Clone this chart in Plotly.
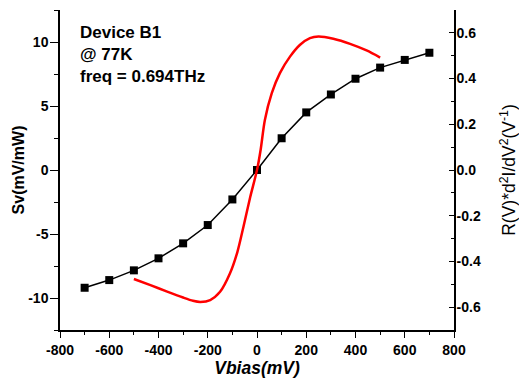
import plotly.graph_objects as go

vbias = [-700, -600, -500, -400, -300, -200, -100, 0, 100, 200, 300, 400, 500, 600, 700]
sv = [-9.2, -8.6, -7.84, -6.9, -5.73, -4.3, -2.3, 0.0, 2.48, 4.5, 5.9, 7.13, 8.0, 8.6, 9.16]

v_curve = [-500, -430, -370, -300, -260, -230, -190, -150, -110, -80, -55, -28, 0, 15, 32,
           60, 93, 134, 175, 215, 250, 310, 378, 445, 500]
r_curve = [-0.477, -0.505, -0.530, -0.558, -0.572, -0.577, -0.569, -0.533, -0.453, -0.36,
           -0.248, -0.12, 0.0, 0.09, 0.219, 0.336, 0.424, 0.496, 0.548, 0.577, 0.584,
           0.574, 0.552, 0.523, 0.492]

x_ticks = [-800, -600, -400, -200, 0, 200, 400, 600, 800]
x_labels = ["-800", "-600", "-400", "-200", "0", "200", "400", "600", "800"]
y_ticks = [-10, -5, 0, 5, 10]
y_labels = ["-10", "-5", "0", "5", "10"]
y2_ticks = [-0.6, -0.4, -0.2, 0.0, 0.2, 0.4, 0.6]
y2_labels = ["-0.6", "-0.4", "-0.2", "0.0", "0.2", "0.4", "0.6"]

FONT = "Liberation Sans"

def bold(labels):
    return ["<b>%s</b>" % s for s in labels]

fig = go.Figure()
fig.add_trace(go.Scatter(x=vbias, y=sv, mode="lines+markers",
                         line=dict(color="black", width=1.5),
                         marker=dict(symbol="square", size=8, color="black"),
                         showlegend=False))
fig.add_trace(go.Scatter(x=v_curve, y=r_curve, mode="lines", yaxis="y2",
                         line=dict(color="#ff0000", width=2.5, shape="spline", smoothing=0.8),
                         showlegend=False))

fig.update_layout(
    width=519, height=383,
    margin=dict(l=60, r=65, t=10, b=53),
    paper_bgcolor="white", plot_bgcolor="white",
    font=dict(family=FONT, color="black"),
    xaxis=dict(range=[-800, 800], tickmode="array", tickvals=x_ticks, ticktext=bold(x_labels),
               showgrid=False, zeroline=False, automargin=False,
               showline=True, linecolor="black", linewidth=1.5,
               ticks="outside", ticklen=6, tickwidth=1.2, tickcolor="black",
               minor=dict(dtick=100, ticks="outside", ticklen=3, tickcolor="black"),
               tickfont=dict(family=FONT, size=14),
               title=dict(text="<b><i>Vbias(mV)</i></b>", font=dict(family=FONT, size=17.5),
                          standoff=5)),
    yaxis=dict(range=[-12.5, 12.5], tickmode="array", tickvals=y_ticks, ticktext=bold(y_labels),
               showgrid=False, zeroline=False, automargin=False,
               showline=True, linecolor="black", linewidth=1.5,
               ticks="outside", ticklen=8, tickwidth=1.2, tickcolor="black",
               minor=dict(dtick=2.5, ticks="outside", ticklen=4, tickcolor="black"),
               tickfont=dict(family=FONT, size=14),
               ticklabelstandoff=-1,
               title=dict(text="<b>Sv(mV/mW)</b>", font=dict(family=FONT, size=16),
                          standoff=0)),
    yaxis2=dict(range=[-0.7, 0.7], tickmode="array", tickvals=y2_ticks, ticktext=bold(y2_labels),
                overlaying="y", side="right",
                showgrid=False, zeroline=False, automargin=False,
                showline=True, linecolor="black", linewidth=1.5,
                ticks="inside", ticklen=5, tickwidth=1.2, tickcolor="black",
                minor=dict(dtick=0.1, ticks="inside", ticklen=3, tickcolor="black"),
                tickfont=dict(family=FONT, size=14),
                ticklabelstandoff=-2,
                title=dict(text="R(V)*d<sup>2</sup>I/dV<sup>2</sup>(V<sup>-1</sup>)",
                           font=dict(family=FONT, size=17.5), standoff=27)),
    annotations=[dict(text="<b>Device B1<br>@ 77K<br>freq = 0.694THz</b>",
                      xref="paper", yref="paper", x=0.045, y=0.965,
                      xanchor="left", yanchor="top", align="left", showarrow=False,
                      font=dict(family=FONT, size=17))],
)

fig.write_html("out.html")
